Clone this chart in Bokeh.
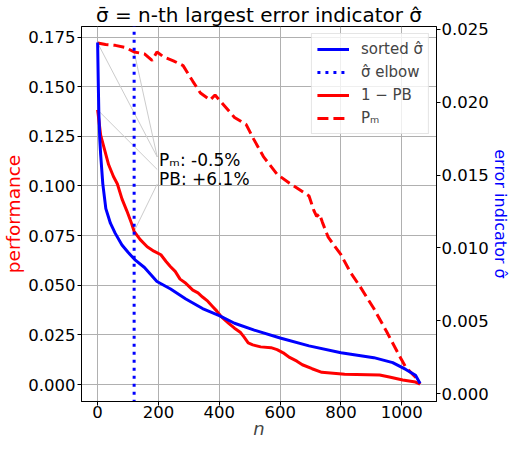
import numpy as np
from bokeh.plotting import figure
from bokeh.models import (Range1d, LinearAxis, FixedTicker, NumeralTickFormatter,
                          Legend, LegendItem, Label)
from bokeh.embed import file_html
from bokeh.resources import INLINE

# ---------------- data ----------------
n_sigma = [0, 2, 4, 7, 10, 17, 27, 42, 58, 80, 100, 122, 154, 195, 240, 290, 345,
           400, 450, 515, 600, 695, 800, 908, 970, 1013, 1045, 1060]
sigma_sorted = [0.0241, 0.0215, 0.0193, 0.0175, 0.0164, 0.0144, 0.0127, 0.0117,
                0.0110, 0.0102, 0.0097, 0.0092, 0.00866, 0.0077, 0.00718, 0.0065,
                0.00584, 0.00536, 0.00483, 0.00436, 0.00382, 0.00328, 0.00281,
                0.00247, 0.00213, 0.00166, 0.00126, 0.0007]

n_pb = [0, 10, 36, 52, 65, 80, 96, 112, 120, 140, 163, 185, 208, 225, 239, 255, 271,
        290, 313, 330, 345, 362, 377, 392, 408, 430, 450, 470, 481, 495, 510, 536,
        570, 590, 610, 631, 655, 673, 705, 737, 812, 927, 959, 1003, 1045, 1060]
one_minus_pb = [0.1383, 0.1256, 0.1108, 0.1048, 0.1010, 0.0935, 0.0875, 0.0810,
                0.0772, 0.0730, 0.0694, 0.0672, 0.0654, 0.0620, 0.0595, 0.0570,
                0.0531, 0.0510, 0.0476, 0.0462, 0.0441, 0.0420, 0.0395, 0.0370,
                0.0340, 0.0310, 0.0284, 0.0262, 0.0240, 0.0210, 0.0200, 0.0190,
                0.0186, 0.0176, 0.0160, 0.0137, 0.0118, 0.0100, 0.0080, 0.0062,
                0.0052, 0.0048, 0.0038, 0.0023, 0.0013, 0.0003]

n_pm = [0, 26, 58, 90, 120, 154, 179, 195, 217, 249, 281, 313, 338, 370, 386, 408,
        450, 488, 513, 545, 590, 631, 695, 711, 720, 729, 739, 758, 800, 831, 863,
        908, 949, 990, 1013, 1045, 1060]
p_m = [0.1720, 0.1712, 0.1708, 0.1698, 0.1675, 0.1665, 0.1632, 0.1675, 0.1650,
       0.1630, 0.1606, 0.1527, 0.1468, 0.1433, 0.1458, 0.1419, 0.1345, 0.1310,
       0.1236, 0.1148, 0.1059, 0.1014, 0.0950, 0.0876, 0.0847, 0.0860, 0.0817,
       0.0742, 0.0654, 0.0565, 0.0493, 0.0383, 0.0270, 0.0151, 0.0087, 0.0038,
       0.0003]

elbow_n = 120

x_ticks = [0, 200, 400, 600, 800, 1000]
perf_ticks = [0.0, 0.025, 0.05, 0.075, 0.1, 0.125, 0.15, 0.175]
sigma_ticks = [0.0, 0.005, 0.01, 0.015, 0.02, 0.025]

title_text = "σ̄ = n-th largest error indicator σ̂"
x_label = "n"
left_label = "performance"
right_label = "error indicator σ̂"
legend_labels = ["sorted σ̂", "σ̂ elbow", "1 − PB", "Pₘ"]
ann_pm_text = "Pₘ: -0.5%"
ann_pb_text = "PB: +6.1%"

# ---------------- figure ----------------
FONT = "DejaVu Sans"
X0, X1 = -53, 1114
Y0, Y1 = -0.0085, 0.1803

p = figure(width=512, height=441, output_backend="svg", toolbar_location=None,
           x_range=Range1d(X0, X1), y_range=Range1d(Y0, Y1),
           min_border_left=77, min_border_right=60, min_border_top=24,
           min_border_bottom=30, background_fill_color="white",
           border_fill_color="white")
p.extra_y_ranges = {"sigma": Range1d(-0.00054, 0.0252)}
p.outline_line_color = "black"
p.outline_line_width = 1

p.title.text = title_text
p.title.align = "center"
p.title.text_font = FONT
p.title.text_font_size = "20px"
p.title.text_font_style = "normal"
p.title.text_color = "black"
p.title.standoff = 0


def style_axis(ax, ticks):
    ax.ticker = FixedTicker(ticks=ticks)
    ax.axis_line_color = "black"
    ax.major_tick_line_color = "black"
    ax.major_tick_out = 4
    ax.major_tick_in = 0
    ax.minor_tick_out = 0
    ax.minor_tick_in = 0
    ax.major_label_text_font = FONT
    ax.major_label_text_font_size = "16.5px"
    ax.major_label_text_color = "black"
    ax.major_label_standoff = 2
    ax.major_label_text_line_height = 1.0
    ax.axis_label_text_font = FONT
    ax.axis_label_text_font_style = "normal"
    ax.axis_label_text_line_height = 1.0
    ax.axis_label_standoff = 1


xa = p.xaxis[0]
style_axis(xa, x_ticks)
xa.axis_label = x_label
xa.axis_label_text_font_style = "italic"
xa.axis_label_text_font_size = "18px"
xa.major_label_standoff = 0
xa.axis_label_standoff = -3

ya = p.yaxis[0]
style_axis(ya, perf_ticks)
ya.formatter = NumeralTickFormatter(format="0.000")
ya.axis_label = left_label
ya.axis_label_text_color = "red"
ya.axis_label_text_font_size = "18.5px"

ra = LinearAxis(y_range_name="sigma")
style_axis(ra, sigma_ticks)
ra.formatter = NumeralTickFormatter(format="0.000")
ra.major_label_standoff = 1
ra.axis_label = right_label
ra.axis_label_text_color = "blue"
ra.axis_label_text_font_size = "16px"
ra.axis_label_standoff = -1
try:
    ra.axis_label_orientation = "vertical"
except Exception:
    pass
p.add_layout(ra, "right")

p.xgrid.ticker = FixedTicker(ticks=x_ticks)
p.ygrid.ticker = FixedTicker(ticks=perf_ticks)
for g in (p.xgrid[0], p.ygrid[0]):
    g.grid_line_color = "#b0b0b0"
    g.grid_line_width = 1

# ---------------- annotation connector lines ----------------
pm0 = p_m[0]
pm_e = float(np.interp(elbow_n, n_pm, p_m))
pb0 = one_minus_pb[0]
pb_e = float(np.interp(elbow_n, n_pb, one_minus_pb))
ann_x = 196
p.segment(x0=[n_pm[0], elbow_n, n_pb[0], elbow_n],
          y0=[pm0, pm_e, pb0, pb_e],
          x1=[ann_x, ann_x, ann_x, ann_x],
          y1=[0.1146, 0.1146, 0.1083, 0.1010],
          line_color="#cccccc", line_width=1)

# ---------------- series ----------------
r_pb = p.line(n_pb, one_minus_pb, line_color="red", line_width=3)
r_pm = p.line(n_pm, p_m, line_color="red", line_width=3, line_dash="11 5")
r_sig = p.line(n_sigma, sigma_sorted, line_color="blue", line_width=3,
               y_range_name="sigma")
r_elb = p.segment(x0=[elbow_n], x1=[elbow_n], y0=[-1.0], y1=[1.0],
                  line_color="blue", line_width=3, line_dash="3 5")

# ---------------- annotation texts ----------------
for txt, yv in ((ann_pm_text, 0.1133), (ann_pb_text, 0.1034)):
    p.add_layout(Label(x=202, y=yv, text=txt, text_baseline="middle",
                       text_align="left", text_font=FONT,
                       text_font_size="17px", text_color="black"))

# ---------------- legend ----------------
legend = Legend(items=[LegendItem(label=legend_labels[0], renderers=[r_sig]),
                       LegendItem(label=legend_labels[1], renderers=[r_elb]),
                       LegendItem(label=legend_labels[2], renderers=[r_pb]),
                       LegendItem(label=legend_labels[3], renderers=[r_pm])],
                location="top_right", margin=7, padding=5, spacing=3,
                glyph_width=32, glyph_height=20, label_height=20,
                label_standoff=12, label_text_font=FONT,
                label_text_font_size="15px",
                border_line_color="#cccccc", border_line_width=1,
                background_fill_color="white", background_fill_alpha=0.8)
p.add_layout(legend)

open("out.html", "w").write(file_html(p, INLINE))
